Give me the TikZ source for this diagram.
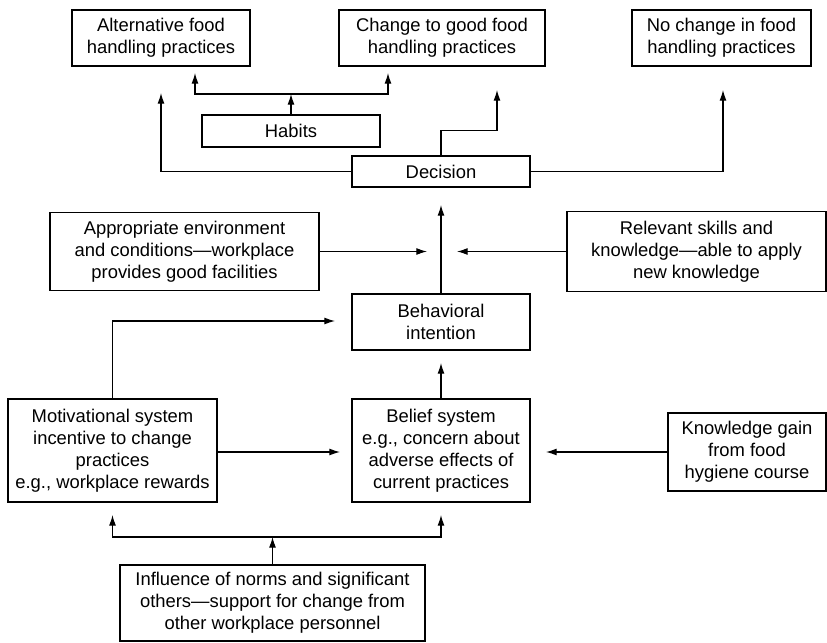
\documentclass[tikz,border=0pt]{standalone}
\usepackage{fontspec}
\setmainfont{Liberation Sans}
\usepackage{tikz}
\usetikzlibrary{arrows.meta, positioning}

\begin{document}
\begin{tikzpicture}[x=0.75pt, y=-0.75pt, >={Latex[length=8pt,width=5.2pt]},
  block/.style={draw, line width=0.8pt, align=center, inner sep=1pt,
    font=\fontsize{13.8}{16.5}\selectfont},
  link/.style={->, line width=0.8pt}]
  \useasboundingbox (0,0) rectangle (827,642);

  % outcomes
  \node[block, minimum width=178*0.75pt, minimum height=56*0.75pt] (alt) at (161,38) {Alternative food\\handling practices};
  \node[block, minimum width=206*0.75pt, minimum height=56*0.75pt] (change) at (442,38) {Change to good food\\handling practices};
  \node[block, minimum width=179*0.75pt, minimum height=56*0.75pt] (nochange) at (721.5,38) {No change in food\\handling practices};
  \node[block, minimum width=178*0.75pt, minimum height=32*0.75pt] (habits) at (291,131) {Habits};
  \node[block, minimum width=178*0.75pt, minimum height=31*0.75pt] (decision) at (441,171.5) {Decision};

  % conditions
  \node[block, minimum width=269*0.75pt, minimum height=78*0.75pt] (environment) at (184.5,251.5) {Appropriate environment\\and conditions—workplace\\provides good facilities};
  \node[block, minimum width=259*0.75pt, minimum height=80*0.75pt] (skills) at (696.5,251.5) {Relevant skills and\\knowledge—able to apply\\new knowledge};
  \node[block, minimum width=178*0.75pt, minimum height=56*0.75pt] (intention) at (441,322) {Behavioral\\intention};

  % systems
  \node[block, minimum width=209*0.75pt, minimum height=103*0.75pt] (motivation) at (112.5,450.5) {Motivational system\\incentive to change\\practices\\e.g., workplace rewards};
  \node[block, minimum width=178*0.75pt, minimum height=103*0.75pt] (belief) at (441,450.5) {Belief system\\e.g., concern about\\adverse effects of\\current practices};
  \node[block, minimum width=158*0.75pt, minimum height=78*0.75pt] (course) at (747,452) {Knowledge gain\\from food\\hygiene course};
  \node[block, minimum width=305*0.75pt, minimum height=76*0.75pt] (norms) at (272.5,603) {Influence of norms and significant\\others—support for change from\\other workplace personnel};

  % arrow ends
  \coordinate (habitsfork) at (291,94);
  \coordinate (altin) at (195,73);
  \coordinate (changein) at (388,73);
  \coordinate (altin2) at (161,93);
  \coordinate (changein2) at (497,90);
  \coordinate (nochangein) at (723,90);
  \coordinate (decisionin) at (441,205);
  \coordinate (environmentout) at (427,251.5);
  \coordinate (skillsout) at (457,251.5);
  \coordinate (intentionin) at (335,321);
  \coordinate (intentionin2) at (441,363);
  \coordinate (beliefin) at (340,452);
  \coordinate (beliefin2) at (546,452);
  \coordinate (normsfork) at (272.5,537);
  \coordinate (motivationin) at (112.5,515);
  \coordinate (beliefin3) at (441,515);

  \draw[link] (habits) -- (habitsfork);
  \draw[link] (habitsfork) -| (altin);
  \draw[link] (habitsfork) -| (changein);
  \draw[link] (decision.west) -| (altin2);
  \draw[link] (decision.north) -- ++(0,-25) -| (changein2);
  \draw[link] (decision.east) -| (nochangein);
  \draw[link] (intention) -- (decisionin);
  \draw[link] (environment.east) -- (environmentout);
  \draw[link] (skills.west) -- (skillsout);
  \draw[link] (motivation.north) |- (intentionin);
  \draw[link] (belief) -- (intentionin2);
  \draw[link] (motivation.east |- beliefin) -- (beliefin);
  \draw[link] (course.west) -- (beliefin2);
  \draw[link] (norms) -- (normsfork);
  \draw[link] (normsfork) -| (motivationin);
  \draw[link] (normsfork) -| (beliefin3);
\end{tikzpicture}
\end{document}
